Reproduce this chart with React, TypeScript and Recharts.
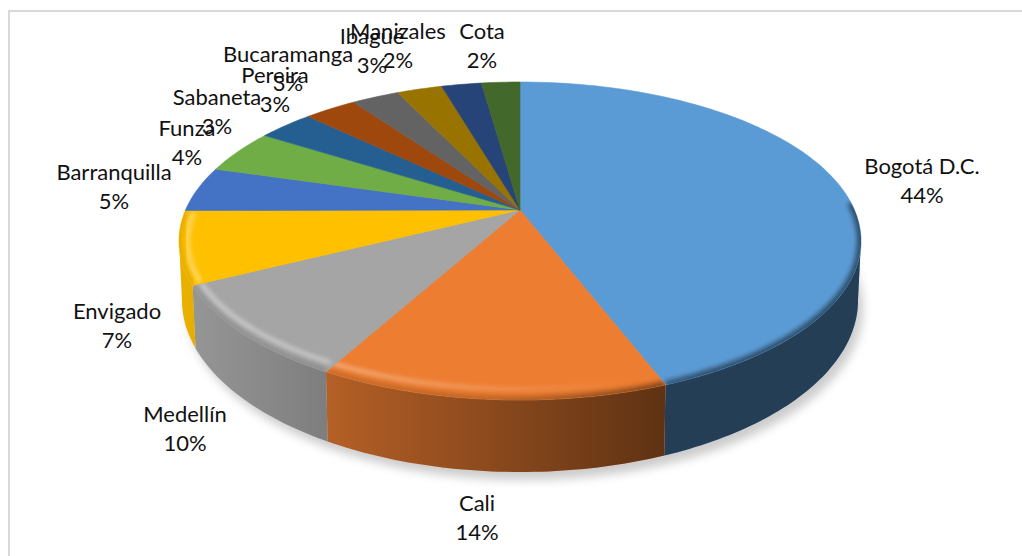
import { PieChart, Pie, Cell } from "recharts";

// share of each city, clockwise from twelve o'clock
const cities = [
  "Bogotá D.C.", "Cali", "Medellín", "Envigado", "Barranquilla", "Funza",
  "Sabaneta", "Pereira", "Bucaramanga", "Ibagué", "Manizales", "Cota",
];
const shares = [44.3, 13.8, 9.6, 7.4, 4.6, 4.5, 3.2, 3.0, 2.7, 2.6, 2.3, 2.2];
const colors = [
  "#5B9BD5", "#ED7D31", "#A5A5A5", "#FFC000", "#4472C4", "#70AD47",
  "#255E91", "#9E480E", "#636363", "#997300", "#264478", "#43682B",
];

// centre of each two-line label; the crowded ones at the top overlap on purpose
const labelCentres: Record<string, [number, number]> = {
  "Bogotá D.C.": [922, 181],
  Cali: [477, 518],
  "Medellín": [185, 429],
  Envigado: [117, 326],
  Barranquilla: [114, 187],
  Funza: [187, 143],
  Sabaneta: [217, 112],
  Pereira: [275, 90],
  Bucaramanga: [288, 69],
  "Ibagué": [372, 51],
  Manizales: [398, 46],
  Cota: [482, 46],
};

const pieData = cities.map((name, i) => ({ name, value: shares[i] }));
const baseData = [{ name: "base", value: 100 }];

const RADIUS = 334.5;
const TILT = -0.195; // perspective divisor slope
const DEPTH_Y = 112; // vertical reach of the disc before perspective
const RIM_CY = 241;
const RIM_RX = 341;
const RIM_RY = 159;
const FLOOR_CY = 300;
const FLOOR_RX = 338;
const FLOOR_RY = 172;
const SIDE_ANGLE = 101.2; // clockwise angle where the rim turns to the front

const rad = (d: number) => (d * Math.PI) / 180;

function rimPoint(theta: number, cx: number, cy: number) {
  const u = Math.sin(rad(theta));
  const v = -Math.cos(rad(theta));
  const w = 1 + TILT * v;
  return { x: cx + (RADIUS * u) / w, y: (DEPTH_Y * v + cy) / w };
}

// same rim point dropped onto the bottom edge of the disc
function floorPoint(theta: number, cx: number, cy: number) {
  const p = rimPoint(theta, cx, cy);
  return {
    x: cx + (FLOOR_RX * (p.x - cx)) / RIM_RX,
    y: FLOOR_CY + (FLOOR_RY * (p.y - RIM_CY)) / RIM_RY,
  };
}

function sample(from: number, to: number, fn: (t: number) => { x: number; y: number }) {
  const pts = [];
  const n = Math.max(1, Math.ceil(Math.abs(to - from)));
  for (let i = 0; i <= n; i++) pts.push(fn(from + ((to - from) * i) / n));
  return pts;
}

const toPath = (pts: { x: number; y: number }[]) =>
  pts.map((p, i) => `${i ? "L" : "M"}${p.x.toFixed(1)} ${p.y.toFixed(1)}`).join(" ");

function SliceShape(props: any) {
  const { cx, cy, startAngle, endAngle, fill } = props;
  const t1 = 90 - startAngle;
  const t2 = 90 - endAngle;
  const rim = (t: number) => rimPoint(t, cx, cy);
  const floor = (t: number) => floorPoint(t, cx, cy);
  const id = `slice-${Math.round(t1 * 10)}`;

  const topPath = `M${cx} ${cy} ` + toPath(sample(t1, t2, rim)).replace("M", "L") + " Z";

  // the bevel runs a little past the point where the side wall starts
  const a = Math.max(t1, SIDE_ANGLE - 14);
  const b = Math.min(t2, 360 - SIDE_ANGLE + 14);
  const wallA = Math.max(t1, SIDE_ANGLE);
  const wallB = Math.min(t2, 360 - SIDE_ANGLE);
  const hasWall = wallB > wallA;
  const wallPath = hasWall
    ? toPath([...sample(wallA, wallB, rim), ...sample(wallB, wallA, floor)]) + " Z"
    : "";
  const rimLine = hasWall ? toPath(sample(a, b, rim)) : "";
  const inset = `translate(${cx} ${RIM_CY}) scale(0.975 0.93) translate(${-cx} ${-RIM_CY})`;

  return (
    <g>
      {hasWall && (
        <>
          <path d={wallPath} fill={fill} />
          <path d={wallPath} fill="url(#wallShade)" />
        </>
      )}
      <path d={topPath} fill={fill} stroke={fill} strokeWidth={0.6} />
      {hasWall && (
        <>
          <clipPath id={id}>
            <path d={topPath} />
          </clipPath>
          <g clipPath={`url(#${id})`}>
            <path
              d={rimLine}
              fill="none"
              stroke="url(#rimDark)"
              strokeWidth={8}
              filter="url(#soft2)"
            />
            <path
              d={rimLine}
              transform={inset}
              fill="none"
              stroke="url(#rimLight)"
              strokeWidth={4}
              filter="url(#soft1)"
            />
          </g>
        </>
      )}
    </g>
  );
}

// soft shadow of the whole disc on the page
function BaseShape(props: any) {
  const { cx, cy } = props;
  const d = toPath(sample(0, 360, (t) => floorPoint(t, cx, cy))) + " Z";
  return (
    <path d={d} transform="translate(5,8)" fill="#000" fillOpacity={0.2} filter="url(#soft6)" />
  );
}

function CityLabel(props: any) {
  const { name, percent } = props;
  const c = labelCentres[name];
  if (!c) return null;
  return (
    <text x={c[0]} y={c[1]} textAnchor="middle" fontFamily="Lato" fontSize={22} fill="#111">
      <tspan x={c[0]} dy={-7}>{name}</tspan>
      <tspan x={c[0]} dy={29}>{`${Math.round(percent * 100)}%`}</tspan>
    </text>
  );
}

export default function App() {
  return (
    <div style={{ position: "absolute", left: 0, top: 0, width: 1022, height: 556, overflow: "hidden", background: "#fff" }}>
      <div
        style={{
          position: "absolute", left: 8, top: 10, width: 1030, height: 560,
          borderTop: "2px solid #d9d9d9", borderLeft: "2px solid #d9d9d9",
        }}
      />
      <div style={{ position: "absolute", left: 0, top: 0 }}>
        <PieChart width={1022} height={556} margin={{ top: 0, right: 0, bottom: 0, left: 0 }}>
          <defs>
            <linearGradient id="wallShade" gradientUnits="userSpaceOnUse" x1="180" y1="0" x2="664" y2="0">
              <stop offset="0" stopColor="#000" stopOpacity={0.08} />
              <stop offset="1" stopColor="#000" stopOpacity={0.6} />
            </linearGradient>
            <linearGradient id="rimLight" gradientUnits="userSpaceOnUse" x1="190" y1="0" x2="640" y2="0">
              <stop offset="0" stopColor="#fff" stopOpacity={0.5} />
              <stop offset="0.3" stopColor="#fff" stopOpacity={0.42} />
              <stop offset="0.73" stopColor="#fff" stopOpacity={0.14} />
              <stop offset="1" stopColor="#fff" stopOpacity={0} />
            </linearGradient>
            <linearGradient id="rimDark" gradientUnits="userSpaceOnUse" x1="190" y1="0" x2="700" y2="0">
              <stop offset="0" stopColor="#000" stopOpacity={0.1} />
              <stop offset="0.6" stopColor="#000" stopOpacity={0.2} />
              <stop offset="1" stopColor="#000" stopOpacity={0.5} />
            </linearGradient>
            <filter id="soft1" x="-10%" y="-50%" width="120%" height="200%">
              <feGaussianBlur stdDeviation="2.5" />
            </filter>
            <filter id="soft2" x="-10%" y="-50%" width="120%" height="200%">
              <feGaussianBlur stdDeviation="2.5" />
            </filter>
            <filter id="soft6" x="-10%" y="-20%" width="120%" height="140%">
              <feGaussianBlur stdDeviation="5" />
            </filter>
          </defs>
          <Pie
            data={baseData}
            dataKey="value"
            cx={520}
            cy={210}
            outerRadius={RADIUS}
            stroke="none"
            isAnimationActive={false}
            shape={BaseShape}
          />
          <Pie
            data={pieData}
            dataKey="value"
            nameKey="name"
            cx={520}
            cy={210}
            outerRadius={RADIUS}
            startAngle={90}
            endAngle={-270}
            stroke="none"
            isAnimationActive={false}
            shape={SliceShape}
            label={CityLabel}
            labelLine={false}
          >
            {pieData.map((d, i) => (
              <Cell key={d.name} fill={colors[i]} />
            ))}
          </Pie>
        </PieChart>
      </div>
    </div>
  );
}
